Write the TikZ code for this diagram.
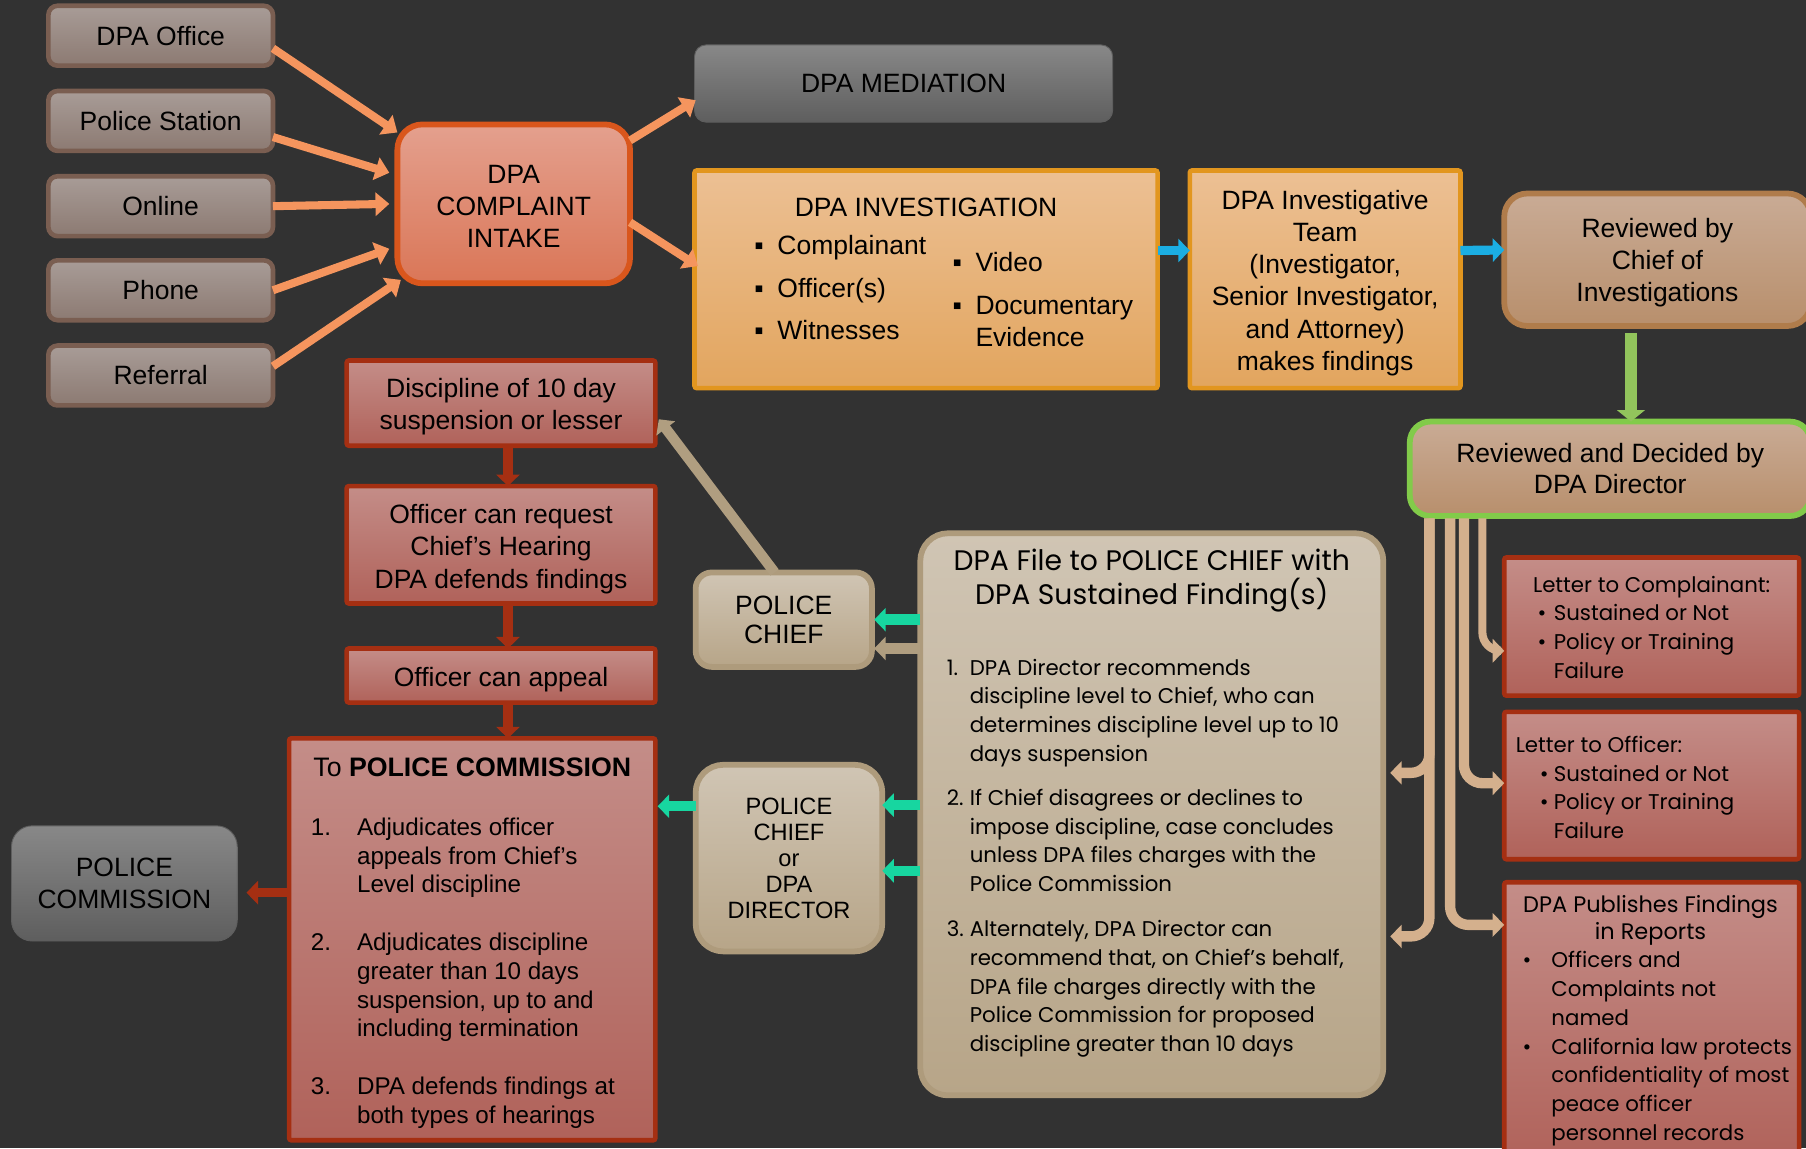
\documentclass[tikz,border=0pt]{standalone}
\usepackage{fontspec}
\setmainfont{Liberation Sans}
\newfontfamily\gothic{Poppins}
\usetikzlibrary{arrows.meta,calc}
\newcommand{\myfs}[2]{\fontsize{#1}{#2}\selectfont}
\newcommand{\sqb}{\makebox[10pt][l]{▪}}
\definecolor{bg}{HTML}{323232}
\definecolor{srcT}{HTML}{A89C97}
\definecolor{srcB}{HTML}{8C7A72}
\definecolor{srcD}{HTML}{7A5E51}
\definecolor{orArr}{HTML}{F5955E}
\definecolor{intT}{HTML}{E4A08E}
\definecolor{intB}{HTML}{DA7657}
\definecolor{intD}{HTML}{D9561C}
\definecolor{medT}{HTML}{888888}
\definecolor{medB}{HTML}{5E5E5E}
\definecolor{invT}{HTML}{ECC094}
\definecolor{invB}{HTML}{E2A55E}
\definecolor{invD}{HTML}{E2961F}
\definecolor{blArr}{HTML}{1BAEE3}
\definecolor{civT}{HTML}{C9AB95}
\definecolor{civB}{HTML}{B88F6C}
\definecolor{civD}{HTML}{B07C4B}
\definecolor{grArr}{HTML}{92C45C}
\definecolor{grD}{HTML}{82CB4A}
\definecolor{redT}{HTML}{C48D88}
\definecolor{redB}{HTML}{B0625A}
\definecolor{redD}{HTML}{A52F12}
\definecolor{tanT}{HTML}{D0C5B4}
\definecolor{tanB}{HTML}{B7A588}
\definecolor{tanD}{HTML}{AE9B7C}
\definecolor{tlArr}{HTML}{17D6A0}
\definecolor{tnArr}{HTML}{B09E80}
\definecolor{brArr}{HTML}{D4B08D}
\tikzset{
  basebox/.style={inner sep=0pt, outer sep=0pt, align=center, text=black},
  srcbox/.style={basebox, rounded corners=4pt, top color=srcT, bottom color=srcB, draw=srcD, line width=2pt,
     minimum width=97.5pt, minimum height=26pt, font=\myfs{11.5}{14}},
  orbox/.style={basebox, rounded corners=1pt, top color=invT, bottom color=invB, draw=invD, line width=2pt},
  brbox/.style={basebox, top color=civT, bottom color=civB, line width=2.5pt},
  redbox/.style={basebox, rounded corners=1pt, top color=redT, bottom color=redB, draw=redD, line width=2pt},
  tanbox/.style={basebox, top color=tanT, bottom color=tanB, draw=tanD, line width=2.5pt},
  graybox/.style={basebox, top color=medT, bottom color=medB, draw=medB, line width=0.4pt},
  txt/.style={inner sep=0pt, outer sep=0pt, text=black},
  oarr/.style={draw=orArr, line width=3.5pt, -{Triangle[length=6pt,width=10pt]}},
  barr/.style={draw=blArr, line width=4pt, -{Triangle[length=5pt,width=10pt]}},
  garr/.style={draw=grArr, line width=5pt, -{Triangle[length=5pt,width=12pt]}},
  rarr/.style={draw=redD, line width=4pt, -{Triangle[length=5pt,width=10pt]}},
  tlarr/.style={draw=tlArr, line width=4.5pt, -{Triangle[length=5pt,width=10pt]}},
  tnarr/.style={draw=tnArr, line width=4.5pt, -{Triangle[length=5pt,width=10pt]}},
  brarr/.style={draw=brArr, line width=4.5pt, rounded corners=8pt, -{Triangle[length=5pt,width=10pt]}},
}
\begin{document}
\begin{tikzpicture}[x=0.5pt,y=-0.5pt]
\useasboundingbox (0,0) rectangle (1568,997);
\fill[bg] (0,0) rectangle (1568,997);
\clip (0,0) rectangle (1568,997);

% sources
\node[srcbox] (src1) at (139.5,31) {DPA Office};
\node[srcbox] (src2) at (139.5,105) {Police Station};
\node[srcbox] (src3) at (139.5,179) {Online};
\node[srcbox] (src4) at (139.5,252) {Phone};
\node[srcbox] (src5) at (139.5,326) {Referral};

% intake
\node[basebox, rounded corners=11pt, top color=intT, bottom color=intB, draw=intD, line width=2.5pt,
  minimum width=101pt, minimum height=69pt, font=\myfs{11.5}{14}, text height=38.2pt, text depth=0pt] (intake) at (446,177) {DPA\\COMPLAINT\\INTAKE};

% mediation
\node[graybox, rounded corners=5pt, minimum width=181.5pt, minimum height=33.5pt, font=\myfs{11.5}{14}] (med) at (784.5,72.5) {DPA MEDIATION};

% investigation
\node[orbox, minimum width=201pt, minimum height=94.5pt] (invest) at (804,242.5) {};
\node[txt, anchor=base, font=\myfs{11.5}{14}] (invt) at (804,188) {DPA INVESTIGATION};
\node[txt, anchor=base west, font=\myfs{11.5}{14}] (ib1) at (655,221) {\sqb Complainant};
\node[txt, anchor=base west, font=\myfs{11.5}{14}] (ib2) at (655,258) {\sqb Officer(s)};
\node[txt, anchor=base west, font=\myfs{11.5}{14}] (ib3) at (655,295) {\sqb Witnesses};
\node[txt, anchor=base west, font=\myfs{11.5}{14}] (ib4) at (827,236) {\sqb Video};
\node[txt, anchor=base west, font=\myfs{11.5}{14}] (ib5) at (827,273) {\sqb Documentary};
\node[txt, anchor=base west, font=\myfs{11.5}{14}] (ib6) at (847,301) {Evidence};

% team
\node[orbox, minimum width=117.5pt, minimum height=94.5pt, font=\myfs{11.5}{14}, text height=79pt, text depth=0pt] (team) at (1150.5,242.5)
  {DPA Investigative\\Team\\(Investigator,\\Senior Investigator,\\and Attorney)\\makes findings};

% chief of investigations
\node[brbox, draw=civD, rounded corners=10pt, minimum width=133pt, minimum height=57.5pt, font=\myfs{11.5}{14}, text depth=0pt] (civ) at (1439,225.5)
  {Reviewed by\\Chief of\\Investigations};

% director
\node[brbox, draw=grD, rounded corners=9pt, minimum width=174pt, minimum height=41pt, font=\myfs{11.5}{13.5}] (dir) at (1398,407)
  {Reviewed and Decided by\\DPA Director};

% letters
\node[redbox, minimum width=128pt, minimum height=60pt] (letC) at (1434,544) {};
\node[txt, anchor=north west, align=left, font=\gothic\myfs{9.25}{12.5}] (letCt) at (1331,500)
  {Letter to Complainant:\\
   \hspace*{2pt}\makebox[7pt][l]{•}Sustained or Not\\
   \hspace*{2pt}\makebox[7pt][l]{•}Policy or Training\\
   \hspace*{9pt}Failure};
\node[redbox, minimum width=128pt, minimum height=64pt] (letO) at (1434,682) {};
\node[txt, anchor=north west, align=left, font=\gothic\myfs{9.25}{12.5}] (letOt) at (1316,639)
  {Letter to Officer:\\
   \hspace*{10.5pt}\makebox[6pt][l]{•}Sustained or Not\\
   \hspace*{10.5pt}\makebox[6pt][l]{•}Policy or Training\\
   \hspace*{16.5pt}Failure};
\node[redbox, minimum width=128pt, minimum height=122pt] (pub) at (1434,888) {};
\node[txt, anchor=north, align=center, font=\gothic\myfs{9.75}{12}] (pubt) at (1433,777)
  {DPA Publishes Findings\\in Reports};
\node[txt, anchor=north west, align=left, font=\gothic\myfs{9.25}{12.5}] (pubb) at (1322,826)
  {\makebox[12.5pt][l]{•}Officers and\\
   \hspace*{12.5pt}Complaints not\\
   \hspace*{12.5pt}named\\
   \makebox[12.5pt][l]{•}California law protects\\
   \hspace*{12.5pt}confidentiality of most\\
   \hspace*{12.5pt}peace officer\\
   \hspace*{12.5pt}personnel records};

% DPA file box
\node[tanbox, rounded corners=12pt, minimum width=201pt, minimum height=244pt] (file) at (1000,707) {};
\node[txt, align=center, font=\gothic\myfs{12.25}{14.5}] (filet) at (1000,504)
  {DPA File to POLICE CHIEF with\\DPA Sustained Finding(s)};
\node[txt, anchor=north west, align=left, font=\gothic\myfs{9.25}{12.5}] (f1) at (822,572)
  {\makebox[10pt][l]{1.}DPA Director recommends\\
   \hspace*{10pt}discipline level to Chief, who can\\
   \hspace*{10pt}determines discipline level up to 10\\
   \hspace*{10pt}days suspension};
\node[txt, anchor=north west, align=left, font=\gothic\myfs{9.25}{12.5}] (f2) at (822,685)
  {\makebox[10pt][l]{2.}If Chief disagrees or declines to\\
   \hspace*{10pt}impose discipline, case concludes\\
   \hspace*{10pt}unless DPA files charges with the\\
   \hspace*{10pt}Police Commission};
\node[txt, anchor=north west, align=left, font=\gothic\myfs{9.25}{12.5}] (f3) at (822,799)
  {\makebox[10pt][l]{3.}Alternately, DPA Director can\\
   \hspace*{10pt}recommend that, on Chief’s behalf,\\
   \hspace*{10pt}DPA file charges directly with the\\
   \hspace*{10pt}Police Commission for proposed\\
   \hspace*{10pt}discipline greater than 10 days};

% police chief boxes
\node[tanbox, rounded corners=7pt, minimum width=76.5pt, minimum height=41pt, font=\myfs{11.5}{12.5}] (pchief) at (680.5,538) {POLICE\\CHIEF};
\node[tanbox, rounded corners=12pt, minimum width=81pt, minimum height=81pt, font=\myfs{10.25}{11.25}] (pcd) at (685,745) {POLICE\\CHIEF\\or\\DPA\\DIRECTOR};

% red column
\node[redbox, minimum width=134pt, minimum height=37pt, font=\myfs{11.5}{13.5}, text height=22.5pt, text depth=0pt] (disc) at (435,350) {Discipline of 10 day\\suspension or lesser};
\node[redbox, minimum width=134pt, minimum height=51pt, font=\myfs{11.5}{14}, text height=37.5pt, text depth=0pt] (req) at (435,473) {Officer can request\\Chief’s Hearing\\DPA defends findings};
\node[redbox, minimum width=134pt, minimum height=23.5pt, font=\myfs{11.5}{14}, text height=9.5pt, text depth=0pt] (appeal) at (435,586.5) {Officer can appeal};
\node[redbox, minimum width=159pt, minimum height=174.5pt] (tocomm) at (410,815.5) {};
\node[txt, anchor=base, font=\myfs{11.6}{13}] (tct) at (410,674) {To \textbf{POLICE COMMISSION}};
\node[txt, anchor=north west, align=left, font=\myfs{10.5}{12.5}] (tc1) at (270,710)
  {\makebox[20pt][l]{1.}Adjudicates officer\\
   \hspace*{20pt}appeals from Chief’s\\
   \hspace*{20pt}Level discipline};
\node[txt, anchor=north west, align=left, font=\myfs{10.5}{12.5}] (tc2) at (270,810)
  {\makebox[20pt][l]{2.}Adjudicates discipline\\
   \hspace*{20pt}greater than 10 days\\
   \hspace*{20pt}suspension, up to and\\
   \hspace*{20pt}including termination};
\node[txt, anchor=north west, align=left, font=\myfs{10.5}{12.5}] (tc3) at (270,935)
  {\makebox[20pt][l]{3.}DPA defends findings at\\
   \hspace*{20pt}both types of hearings};

% police commission
\node[graybox, rounded corners=9pt, minimum width=98pt, minimum height=50pt, font=\myfs{11.5}{14}] (comm) at (108,767) {POLICE\\COMMISSION};

% ---- connectors ----
\draw[oarr] ($(src1.east)+(0,11)$) -- ($(intake.west)+(0,-62)$);
\draw[oarr] ($(src2.east)+(0,14)$) -- ($(intake.west)+(-7,-27)$);
\draw[oarr] (src3.east) -- ($(intake.west)+(-7,0)$);
\draw[oarr] (src4.east) -- ($(intake.west)+(-7,39)$);
\draw[oarr] ($(src5.east)+(0,-8)$) -- ($(intake.west)+(3,66)$);
\draw[oarr] ($(intake.east)+(0,-55)$) -- ($(med.west)+(1,14.5)$);
\draw[oarr] ($(intake.east)+(0,16)$) -- ($(invest.west)+(3,-11.5)$);

\draw[barr] ($(invest.east)+(0,-25)$) -- ($(team.west)+(0,-25)$);
\draw[barr] ($(team.east)+(0,-25)$) -- ($(civ.west)+(0,-8.5)$);
\draw[garr] ($(civ.south)+(-23,6)$) -- ($(dir.north)+(18,0)$);

\draw[brarr] ($(dir.south west)+(17,2)$) |- ($(file.east)+(6,106)$);
\draw[brarr] ($(dir.south west)+(17,2)$) |- ($(file.east)+(6,-36)$);
\draw[brarr] ($(dir.south west)+(35,2)$) |- ($(pub.west)+(0,-85)$);
\draw[brarr] ($(dir.south west)+(47,2)$) |- ($(letO.west)+(0,-2)$);
\draw[brarr, line width=3.5pt] ($(dir.south west)+(63,2)$) |- ($(letC.west)+(0,21)$);

\draw[tlarr] ($(file.north west)+(0,75)$) -- ($(pchief.east)+(2,0)$);
\draw[tnarr] ($(file.north west)+(0,100)$) -- ($(pchief.east)+(2,25)$);
\draw[tlarr] ($(file.north west)+(0,236)$) -- ($(pcd.east)+(0,-46)$);
\draw[tlarr] ($(file.north west)+(0,293)$) -- ($(pcd.east)+(0,11)$);
\draw[tlarr] ($(pcd.west)+(0,-45)$) -- ($(tocomm.east)+(2,-115.5)$);
\draw[tnarr] ($(pchief.north)+(-8,0)$) -- ($(disc.east)+(3,14)$);

\draw[rarr] ($(disc.south)+(6,0)$) -- ($(req.north)+(6,0)$);
\draw[rarr] ($(req.south)+(6,0)$) -- ($(appeal.north)+(6,0)$);
\draw[rarr] ($(appeal.south)+(6,0)$) -- ($(tocomm.north)+(31,0)$);
\draw[rarr] ($(tocomm.west)+(0,-40.5)$) -- ($(comm.east)+(8,8)$);
\end{tikzpicture}
\end{document}
